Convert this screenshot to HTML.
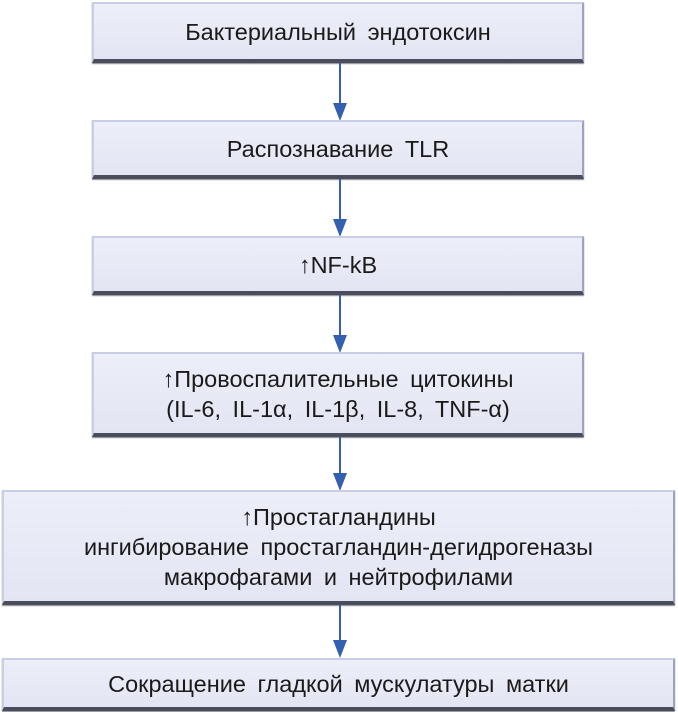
<!DOCTYPE html>
<html><head><meta charset="utf-8"><style>
body{margin:0;width:678px;height:712px;background:#fff;position:relative;overflow:hidden;font-family:"Liberation Sans",sans-serif;}
.b{position:absolute;box-sizing:border-box;background:linear-gradient(#eceef8,#e3e5f3);border-top:2px solid #c9cde6;border-left:2px solid #c9cde6;border-right:2px solid #9ea3bd;border-bottom:4px solid #4a4d5e;box-shadow:0 1px 1px #888;display:flex;flex-direction:column;align-items:center;justify-content:center;text-align:center;color:#1a1a1a;font-size:23.5px;line-height:30px;word-spacing:5px;}
.a{position:absolute;left:339px;width:2px;background:#3560b0;}
.h{position:absolute;left:333px;width:0;height:0;border-left:7px solid transparent;border-right:7px solid transparent;border-top:18px solid #3560b0;}
</style></head><body>
<div class="b" style="left:92px;top:2px;width:492px;height:61px">Бактериальный эндотоксин</div>
<div class="a" style="top:63px;height:42px"></div><div class="h" style="top:103px"></div>
<div class="b" style="left:92px;top:120px;width:492px;height:59px">Распознавание TLR</div>
<div class="a" style="top:179px;height:42px"></div><div class="h" style="top:219px"></div>
<div class="b" style="left:92px;top:236px;width:492px;height:59px">↑NF-kB</div>
<div class="a" style="top:295px;height:42px"></div><div class="h" style="top:335px"></div>
<div class="b" style="left:92px;top:352px;width:492px;height:85px"><div>↑Провоспалительные цитокины</div><div>(IL-6, IL-1α, IL-1β, IL-8, TNF-α)</div></div>
<div class="a" style="top:437px;height:38px"></div><div class="h" style="top:473px"></div>
<div class="b" style="left:2px;top:490px;width:673px;height:115px"><div>↑Простагландины</div><div>ингибирование простагландин-дегидрогеназы</div><div>макрофагами и нейтрофилами</div></div>
<div class="a" style="top:605px;height:36px"></div><div class="h" style="top:640px"></div>
<div class="b" style="left:2px;top:658px;width:673px;height:53px">Сокращение гладкой мускулатуры матки</div>
</body></html>
